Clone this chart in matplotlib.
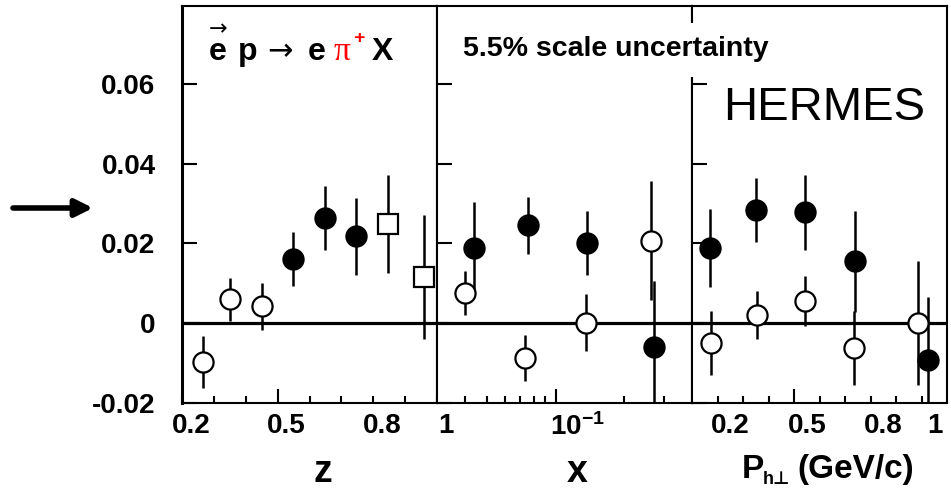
import matplotlib
matplotlib.use("Agg")
import matplotlib.pyplot as plt
from matplotlib.patches import Rectangle
from matplotlib.transforms import ScaledTranslation

plt.rcParams['font.family'] = ['Liberation Sans', 'DejaVu Sans']
plt.rcParams['font.weight'] = 'bold'
plt.rcParams['mathtext.fontset'] = 'custom'
plt.rcParams['mathtext.rm'] = 'Liberation Sans:bold'
plt.rcParams['mathtext.it'] = 'Liberation Sans:bold'
plt.rcParams['mathtext.bf'] = 'Liberation Sans:bold'

# asymmetry vs z
z_open = [0.265, 0.352, 0.45]
z_open_a = [-0.0097, 0.0060, 0.0043]
z_open_e = [0.0066, 0.0054, 0.0059]
z_fill = [0.549, 0.648, 0.747]
z_fill_a = [0.0161, 0.0263, 0.0218]
z_fill_e = [0.0067, 0.0080, 0.0097]
z_sq = [0.847, 0.958]
z_sq_a = [0.0249, 0.0115]
z_sq_e = [0.0122, 0.0155]

# asymmetry vs x
x_fill = [0.0435, 0.0754, 0.138, 0.2715]
x_fill_a = [0.0189, 0.0245, 0.0201, -0.0060]
x_fill_e = [0.0116, 0.0072, 0.0081, 0.0167]
x_open = [0.040, 0.0734, 0.1357, 0.263]
x_open_a = [0.0076, -0.0087, 0.0001, 0.0207]
x_open_e = [0.0055, 0.0058, 0.0071, 0.0150]

# asymmetry vs P_h_perp
p_fill = [0.171, 0.352, 0.542, 0.739, 1.026]
p_fill_a = [0.0188, 0.0283, 0.0278, 0.0155, -0.0091]
p_fill_e = [0.0097, 0.0080, 0.0094, 0.0126, 0.0157]
p_open = [0.174, 0.353, 0.544, 0.735, 0.985]
p_open_a = [-0.0049, 0.0020, 0.0055, -0.0062, 0.0001]
p_open_e = [0.0080, 0.0060, 0.0063, 0.0093, 0.0155]

y_ticks = [-0.02, 0, 0.02, 0.04, 0.06]
y_labels = ['-0.02', '0', '0.02', '0.04', '0.06']

W, H = 951, 490
fig = plt.figure(figsize=(W / 100, H / 100), dpi=100)

def px_axes(x0, x1, y0, y1):
    return fig.add_axes([x0 / W, 1 - y1 / H, (x1 - x0) / W, (y1 - y0) / H])

axs = [px_axes(182, 437, 6, 403), px_axes(437, 692, 6, 403), px_axes(692, 947, 6, 403)]

def points(ax, x, a, e, marker, filled):
    ax.errorbar(x, a, yerr=e, fmt=marker, ms=14.5, mew=1.6, color='black',
                mfc='black' if filled else 'white', mec='black',
                elinewidth=1.8, capsize=0, zorder=3)

points(axs[0], z_open, z_open_a, z_open_e, 'o', False)
points(axs[0], z_fill, z_fill_a, z_fill_e, 'o', True)
points(axs[0], z_sq, z_sq_a, z_sq_e, 's', False)
points(axs[1], x_fill, x_fill_a, x_fill_e, 'o', True)
points(axs[1], x_open, x_open_a, x_open_e, 'o', False)
points(axs[2], p_fill, p_fill_a, p_fill_e, 'o', True)
points(axs[2], p_open, p_open_a, p_open_e, 'o', False)

for ax in axs:
    ax.axhline(0, color='black', lw=2.3, zorder=2)
    ax.set_ylim(-0.02, 0.0795)
    ax.set_yticks(y_ticks, y_labels)
    ax.tick_params(axis='y', direction='in', length=11, width=1.5, pad=19, labelsize=20)
    ax.tick_params(axis='x', which='major', direction='in', length=10, width=1.5, pad=7, labelsize=20)
    ax.tick_params(axis='x', which='minor', direction='in', length=5, width=1.5, pad=7, labelsize=20)
    for s in ax.spines.values():
        s.set_linewidth(1.5)
axs[0].spines['left'].set_linewidth(2.2)
for ax in axs[1:]:
    ax.tick_params(axis='y', labelleft=False)

axs[0].set_xlim(0.2, 1.0)
axs[0].set_xticks([0.5], ['0.5'])
axs[0].set_xticks([0.2, 0.3, 0.4, 0.6, 0.7, 0.8, 0.9, 1.0],
                  ['0.2', '', '', '', '', '0.8', '', '1'], minor=True)

axs[1].set_xscale('log')
axs[1].set_xlim(0.03, 0.4)
axs[1].set_xticks([0.1], [r'$\mathregular{10^{-1}}$'])
axs[1].set_xticks([0.04, 0.05, 0.06, 0.07, 0.08, 0.09, 0.2, 0.3], [''] * 8, minor=True)

axs[2].set_xlim(0.1, 1.1)
axs[2].set_xticks([0.5], ['0.5'])
axs[2].set_xticks([0.2, 0.3, 0.4, 0.6, 0.7, 0.8, 0.9, 1.0],
                  ['0.2', '', '', '', '', '0.8', '', '1'], minor=True)

for ax, dx in zip(axs, [9, 22, 13]):
    shift = ScaledTranslation(dx / 100, 0, fig.dpi_scale_trans)
    for lab in ax.get_xticklabels(which='both'):
        lab.set_transform(lab.get_transform() + shift)

def ftext(px, py, s, **kw):
    return fig.text(px / W, 1 - py / H, s, **kw)

# axis titles
ftext(323, 472, 'z', ha='center', va='center', fontsize=27)
ftext(577, 472, 'x', ha='center', va='center', fontsize=27)
ftext(742, 478, 'P', ha='left', va='baseline', fontsize=24)
ftext(763, 484, 'h\u22a5', ha='left', va='baseline', fontsize=13)
ftext(797, 478, '(GeV/c)', ha='left', va='baseline', fontsize=24)

# reaction label
ftext(209, 60, 'e', fontsize=23, va='baseline')
ftext(218, 29, '\u2192', fontsize=16, fontweight='normal', family='DejaVu Sans',
      ha='center', va='center')
ftext(238, 60, 'p', fontsize=23, va='baseline')
ftext(267, 60, '\u2192', fontsize=22, fontweight='normal', family='DejaVu Sans', va='baseline')
ftext(308, 60, 'e', fontsize=23, va='baseline')
ftext(334, 60, '\u03c0', fontsize=24, fontweight='normal', family='Liberation Serif',
      color='red', va='baseline')
ftext(353, 38, '+', fontsize=14, color='red', va='center')
ftext(372, 60, 'X', fontsize=23, va='baseline')

fig.add_artist(Rectangle((455 / W, 1 - 77 / H), 340 / W, 54 / H, transform=fig.transFigure,
                         fc='white', ec='none', zorder=4))
ftext(463, 56, '5.5% scale uncertainty', fontsize=20.5, va='baseline', zorder=5)
ftext(723, 120, 'HERMES', fontsize=34, fontweight='normal', va='baseline')

axs[0].annotate('', xy=(93, H - 208), xytext=(13, H - 208),
                xycoords='figure pixels', textcoords='figure pixels',
                arrowprops=dict(arrowstyle='-|>', lw=4, color='black',
                                mutation_scale=26, shrinkA=0, shrinkB=0),
                annotation_clip=False)

fig.savefig('out.png', dpi=100)
